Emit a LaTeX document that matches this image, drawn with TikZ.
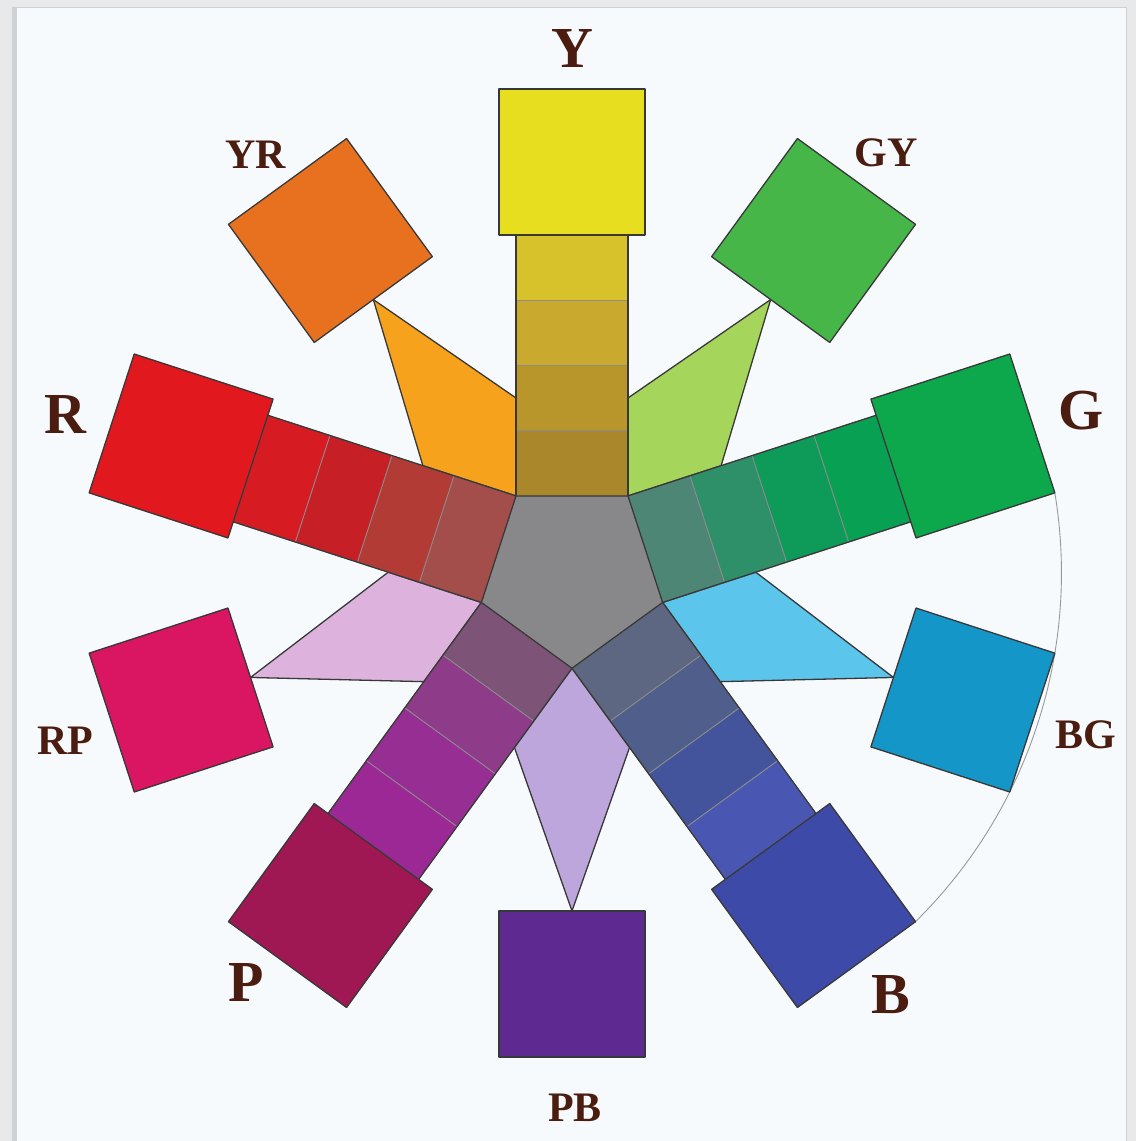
\documentclass[tikz,border=0pt]{standalone}
\usepackage{fontspec}
\setmainfont{Liberation Serif}
\definecolor{framec}{HTML}{E7E9EB}
\definecolor{shadowc}{HTML}{CFD2D5}
\definecolor{panelc}{HTML}{F7FAFD}
\definecolor{labc}{HTML}{4A1D10}
\definecolor{pentc}{HTML}{88888A}
% Y
\definecolor{ysq}{HTML}{E7DE1F}
\definecolor{ya}{HTML}{A9872A}\definecolor{yb}{HTML}{B8962C}\definecolor{yc}{HTML}{C9AA2F}\definecolor{yd}{HTML}{D8C22C}
% R
\definecolor{rsq}{HTML}{E2181F}
\definecolor{ra}{HTML}{A44E4B}\definecolor{rb}{HTML}{B33B35}\definecolor{rc}{HTML}{C61F26}\definecolor{rd}{HTML}{D61B22}
% G
\definecolor{gsq}{HTML}{0CA84B}
\definecolor{ga}{HTML}{4E8675}\definecolor{gb}{HTML}{2D9068}\definecolor{gc}{HTML}{0E9A58}\definecolor{gd}{HTML}{08A052}
% B
\definecolor{bsq}{HTML}{3E4AA8}
\definecolor{ba}{HTML}{5D6781}\definecolor{bb}{HTML}{4F5E8A}\definecolor{bc}{HTML}{44549C}\definecolor{bd}{HTML}{4A57B2}
% P
\definecolor{psq}{HTML}{A01853}
\definecolor{pa}{HTML}{7D5378}\definecolor{pb}{HTML}{8E3C8A}\definecolor{pc}{HTML}{972E93}\definecolor{pd}{HTML}{9B2894}
% intermediates
\definecolor{yrsq}{HTML}{E8711F}\definecolor{yrw}{HTML}{F6A21C}
\definecolor{gysq}{HTML}{46B649}\definecolor{gyw}{HTML}{A5D55A}
\definecolor{bgsq}{HTML}{1596C9}\definecolor{bgw}{HTML}{5BC5EC}
\definecolor{pbsq}{HTML}{5E2A91}\definecolor{pbw}{HTML}{BDA6DB}
\definecolor{rpsq}{HTML}{DA1562}\definecolor{rpw}{HTML}{DDB2DD}

\newcommand\munsellarm[6]{%
\begin{scope}[rotate=#1]
\filldraw[seg,fill=#2] (-56,77.08) rectangle (56,142.31);
\filldraw[seg,fill=#3] (-56,142.31) rectangle (56,207.54);
\filldraw[seg,fill=#4] (-56,207.54) rectangle (56,272.77);
\filldraw[seg,fill=#5] (-56,272.77) rectangle (56,338);
\draw[edge] (-56,77.08) -- (-56,338) (56,77.08) -- (56,338);
\filldraw[edge,fill=#6] (-73,338) rectangle (73,484);
\end{scope}}

\newcommand\munsellwedge[3]{%
\begin{scope}[rotate=#1]
\filldraw[edge,fill=#2] (0,95.27) -- (71.74:183.74) -- (0,338) -- (108.26:183.74) -- cycle;
\filldraw[edge,fill=#3] (-73,338) rectangle (73,484);
\end{scope}}

\begin{document}
\begin{tikzpicture}[x=1pt,y=1pt,
  edge/.style={draw=black!78, line width=1.3pt, line join=round},
  seg/.style={draw=black!45, line width=0.8pt},
  biglab/.style={text=labc, font=\fontsize{58}{58}\selectfont\bfseries, inner sep=0pt},
  smlab/.style={text=labc, font=\fontsize{42}{42}\selectfont\bfseries, inner sep=0pt}]

\useasboundingbox (-572,-568) rectangle (564,573);
\fill[framec] (-572,-568) rectangle (564,573);
\fill[shadowc] (-560,-568) rectangle (555,566);
\fill[panelc] (-555,-568) rectangle (554,565);

% outer arc (right side)
\draw[black!40, line width=0.9pt] (9.42:489.47) arc[start angle=9.42, end angle=-45.42, radius=489.47];

% intermediate hues
\munsellwedge{36}{yrw}{yrsq}
\munsellwedge{108}{rpw}{rpsq}
\munsellwedge{180}{pbw}{pbsq}
\munsellwedge{252}{bgw}{bgsq}
\munsellwedge{324}{gyw}{gysq}

% principal hues
\munsellarm{0}{ya}{yb}{yc}{yd}{ysq}
\munsellarm{72}{ra}{rb}{rc}{rd}{rsq}
\munsellarm{144}{pa}{pb}{pc}{pd}{psq}
\munsellarm{216}{ba}{bb}{bc}{bd}{bsq}
\munsellarm{288}{ga}{gb}{gc}{gd}{gsq}

% neutral centre
\filldraw[edge,fill=pentc] (54:95.27) -- (126:95.27) -- (198:95.27) -- (270:95.27) -- (342:95.27) -- cycle;

% labels
\node[biglab] (lY) at (0,524) {Y};
\node[smlab] (lYR) at (-316,418) {YR};
\node[smlab] (lGY) at (314,420) {GY};
\node[biglab] (lR) at (-507,158) {R};
\node[biglab] (lG) at (509,162) {G};
\node[smlab] (lRP) at (-507,-168) {RP};
\node[smlab] (lBG) at (514,-162) {BG};
\node[biglab] (lP) at (-326,-410) {P};
\node[biglab] (lB) at (319,-422) {B};
\node[smlab] (lPB) at (3,-535) {PB};
\end{tikzpicture}
\end{document}
